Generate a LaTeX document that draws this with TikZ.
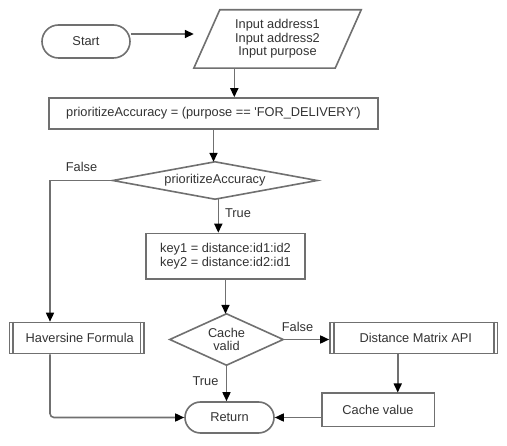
\documentclass[tikz,border=0pt]{standalone}
\usepackage{fontspec}
\setmainfont{Liberation Sans}
\usetikzlibrary{arrows.meta}
\definecolor{lncol}{HTML}{707070}
\definecolor{txcol}{HTML}{333333}
\begin{document}
\begin{tikzpicture}[x=1pt,y=-1pt,
  font=\fontsize{12.8}{13.6}\selectfont, text=txcol,
  ln/.style={draw=lncol, line width=1.6pt},
  box/.style={ln, rectangle, inner sep=0pt, align=center},
  plain/.style={inner sep=0pt, align=center},
  arr/.style={draw=lncol, line width=1.6pt, -{Triangle[length=9pt,width=8pt,color=black]}},
  lbl/.style={inner sep=0pt}]
\useasboundingbox (0,0) rectangle (507,446);
\fill[white] (0,0) rectangle (507,446);

% nodes
\node[box, rounded corners=16.5pt, minimum width=88pt, minimum height=33pt] (start) at (86,41.5) {Start};
\node[plain, minimum width=167pt, minimum height=58pt] (inp) at (277.5,39) {Input address1\\Input address2\\Input purpose};
\node[box, minimum width=329pt, minimum height=31pt] (asg) at (213.5,113.5) {prioritizeAccuracy = (purpose == \textquotesingle FOR\_DELIVERY\textquotesingle)};
\node[plain, minimum width=204pt, minimum height=37pt] (d1) at (215,180.5) {prioritizeAccuracy};
\node[box, minimum width=159pt, minimum height=45.5pt] (key) at (225.5,256.25) {key1 = distance:id1:id2\\key2 = distance:id2:id1};
\node[plain, minimum width=113pt, minimum height=51pt] (d2) at (226.5,339.5) {Cache\\valid};
\node[box, minimum width=134.5pt, minimum height=31pt] (hv) at (76.75,338) {\hspace*{6pt}Haversine Formula};
\node[box, minimum width=167.5pt, minimum height=31pt] (dm) at (413.75,338) {\hspace*{4pt}Distance Matrix API};
\node[box, minimum width=112.6pt, minimum height=33.4pt] (cv) at (378,410) {Cache value};
\node[box, rounded corners=15.5pt, minimum width=89pt, minimum height=31pt] (ret) at (229.5,417.5) {Return};

% shapes
\draw[ln] ([xshift=26pt]inp.north west) -- (inp.north east) -- ([xshift=-26pt]inp.south east) -- (inp.south west) -- cycle;
\draw[ln] (d1.north) -- (d1.east) -- (d1.south) -- (d1.west) -- cycle;
\draw[ln] (d2.north) -- (d2.east) -- (d2.south) -- (d2.west) -- cycle;
\draw[ln] ([xshift=4.5pt]hv.north west) -- ([xshift=4.5pt]hv.south west);
\draw[ln] ([xshift=-4.5pt]hv.north east) -- ([xshift=-4.5pt]hv.south east);
\draw[ln] ([xshift=4.5pt]dm.north west) -- ([xshift=4.5pt]dm.south west);
\draw[ln] ([xshift=-4.5pt]dm.north east) -- ([xshift=-4.5pt]dm.south east);

% connectors
\coordinate (s1) at ([yshift=7.5pt]start.east);
\draw[arr] (s1) -- (s1 -| inp.west);
\coordinate (i1) at ([xshift=-43.2pt]inp.south);
\draw[arr] (i1) -- (i1 |- asg.north);
\draw[arr] (asg.south) -- (asg.south |- d1.north);
\coordinate (hvin) at ([xshift=-26.75pt]hv.north);
\draw[arr] (d1.west) -| (hvin);
\node[lbl] (f1) at (81.5,166.7) {False};
\coordinate (t1) at ([xshift=3.3pt]d1.south);
\draw[arr] (t1) -- (t1 |- key.north);
\node[lbl] (tl1) at (238,213) {True};
\draw[arr] (key.south) -- (key.south |- d2.north);
\draw[arr] (d2.east) -- (d2.east -| dm.west);
\node[lbl] (f2) at (297.5,326.7) {False};
\draw[arr] (d2.south) -- (d2.south |- ret.north);
\node[lbl] (tl2) at (205.5,381) {True};
\coordinate (dmout) at ([xshift=-16pt]dm.south);
\draw[arr] (dmout) -- (dmout |- cv.north);
\draw[arr] (cv.west |- ret.east) -- (ret.east);
\coordinate (hvout) at ([xshift=-26.75pt]hv.south);
\draw[arr, rounded corners=4pt] (hvout) |- (ret.west);
\end{tikzpicture}
\end{document}
